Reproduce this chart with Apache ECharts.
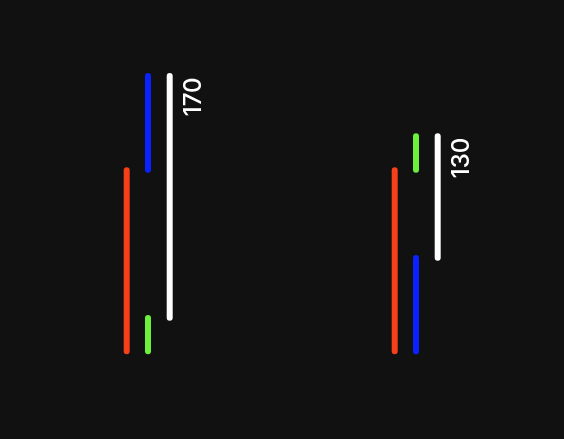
<!DOCTYPE html>
<html>
<head>
<meta charset="utf-8">
<script src="https://cdn.jsdelivr.net/npm/echarts@6/dist/echarts.min.js"></script>
<style>
html,body{margin:0;padding:0;background:#111111;}
#main{width:564px;height:439px;}
</style>
</head>
<body>
<div id="main"></div>
<script>
// Data
var categories = ['A', 'B'];
// [low, high] per category
var redRanges   = [[0, 111.7], [0, 111.7]];
var greenRanges = [[0, 20.6], [112.1, 132.7]];
var blueRanges  = [[112.1, 170], [0, 57.6]];
var whiteRanges = [[20.7, 170], [57.8, 132.7]];
var whiteLabels = ['170', '130'];

function toData(ranges) {
  return ranges.map(function (r, i) { return [i, r[0], r[1]]; });
}

function makeRender(color, offset, withLabel) {
  return function (params, api) {
    var p0 = api.coord([api.value(0), api.value(1)]);
    var p1 = api.coord([api.value(0), api.value(2)]);
    var x = p0[0] + offset;
    var children = [{
      type: 'line',
      shape: { x1: x, y1: p0[1], x2: x, y2: p1[1] },
      style: { stroke: color, lineWidth: 6, lineCap: 'round' }
    }];
    if (withLabel) {
      children.push({
        type: 'text',
        x: x + 24,
        y: p1[1] + 1.5,
        rotation: Math.PI / 2,
        style: {
          text: whiteLabels[params.dataIndex],
          fill: '#ffffff',
          font: '500 24px Inter',
          align: 'right',
          verticalAlign: 'middle'
        }
      });
    }
    return { type: 'group', children: children };
  };
}

var chart = echarts.init(document.getElementById('main'));
chart.setOption({
  backgroundColor: '#111111',
  animation: false,
  grid: { left: 14, right: 14, top: 27.3, bottom: 87.7 },
  xAxis: { type: 'category', data: categories, show: false },
  yAxis: { type: 'value', min: 0, max: 200, show: false },
  series: [
    { type: 'custom', data: toData(redRanges), renderItem: makeRender('#f5401a', -21.3, false) },
    { type: 'custom', data: toData(greenRanges), renderItem: makeRender('#6cf03c', 0, false) },
    { type: 'custom', data: toData(blueRanges), renderItem: makeRender('#0a22ff', 0, false) },
    { type: 'custom', data: toData(whiteRanges), renderItem: makeRender('#ffffff', 21.7, true) }
  ]
});
</script>
</body>
</html>
